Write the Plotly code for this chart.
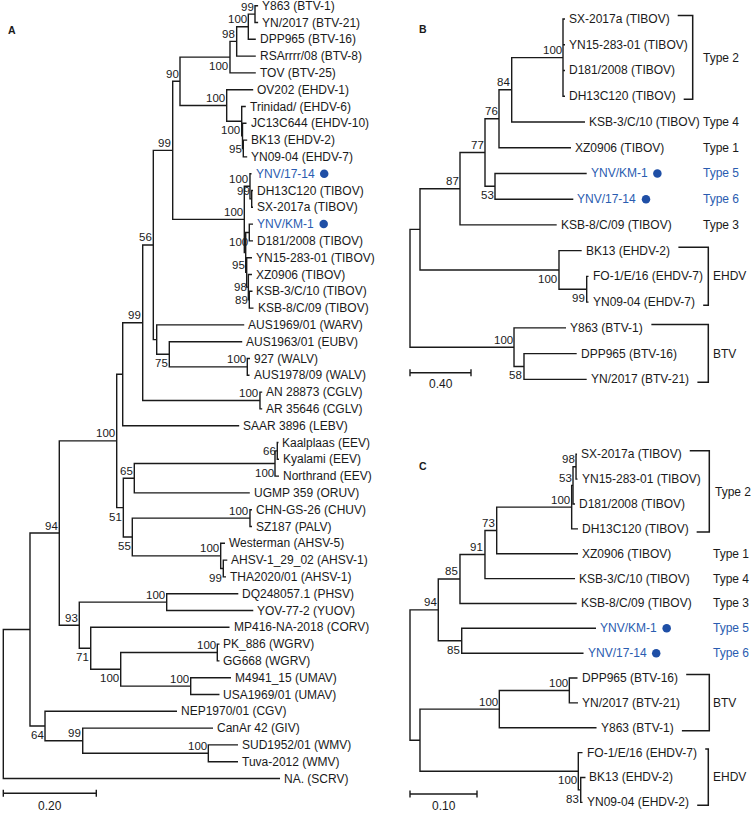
import plotly.graph_objects as go

W, H = 751, 813
FONT = "Liberation Sans, Arial, Helvetica, sans-serif"
INK = "#1a1a1a"
BLUE = "#2a5cb0"
DOT = "#1f4fa6"

# ---------------------------------------------------------------- data
# Panel A tree (preorder): node, parent, branch length, bootstrap support
A_node = ["#root", "#R1", "#n94", "#n100", "#nX", "#n99c", "#n56", "#n99u", "#n90",
          "#BTV4", "#BTV3", "#BTV2", "#BTV1", "Y863 (BTV-1)", "YN/2017 (BTV-21)", "DPP965 (BTV-16)",
          "RSArrrr/08 (BTV-8)", "TOV (BTV-25)",
          "#EHDV", "OV202 (EHDV-1)", "#E2", "Trinidad/ (EHDV-6)", "#E2b", "JC13C644 (EHDV-10)", "#E3",
          "BK13 (EHDV-2)", "YN09-04 (EHDV-7)",
          "#TIB", "#T1", "YNV/17-14", "#T1b", "DH13C120 (TIBOV)", "SX-2017a (TIBOV)",
          "#T2", "#T2a", "YNV/KM-1", "D181/2008 (TIBOV)", "#T2b", "YN15-283-01 (TIBOV)", "#T2c",
          "XZ0906 (TIBOV)", "#KSB", "KSB-3/C/10 (TIBOV)", "KSB-8/C/09 (TIBOV)",
          "#W", "AUS1969/01 (WARV)", "#n75", "AUS1963/01 (EUBV)", "#WALV", "927 (WALV)", "AUS1978/09 (WALV)",
          "#CGLV", "AN 28873 (CGLV)", "AR 35646 (CGLV)",
          "SAAR 3896 (LEBV)",
          "#n51", "#n65", "#EEV", "#EEVi", "Kaalplaas (EEV)", "Kyalami (EEV)", "Northrand (EEV)",
          "UGMP 359 (ORUV)",
          "#n55", "#CHUV", "CHN-GS-26 (CHUV)", "SZ187 (PALV)", "#AHSV", "Westerman (AHSV-5)", "#AHSVi",
          "AHSV-1_29_02 (AHSV-1)", "THA2020/01 (AHSV-1)",
          "#n93", "#PHSV", "DQ248057.1 (PHSV)", "YOV-77-2 (YUOV)", "#n71", "MP416-NA-2018 (CORV)",
          "#n100b", "#WGRV", "PK_886 (WGRV)", "GG668 (WGRV)", "#UMAV", "M4941_15 (UMAV)", "USA1969/01 (UMAV)",
          "#n64", "NEP1970/01 (CGV)", "#n99b", "CanAr 42 (GIV)", "#WMV", "SUD1952/01 (WMV)", "Tuva-2012 (WMV)",
          "NA. (SCRV)"]
A_parent = [None, "#root", "#R1", "#n94", "#n100", "#nX", "#n99c", "#n56", "#n99u",
            "#n90", "#BTV4", "#BTV3", "#BTV2", "#BTV1", "#BTV1", "#BTV2",
            "#BTV3", "#BTV4",
            "#n90", "#EHDV", "#EHDV", "#E2", "#E2", "#E2b", "#E2b",
            "#E3", "#E3",
            "#n99u", "#TIB", "#T1", "#T1", "#T1b", "#T1b",
            "#TIB", "#T2", "#T2a", "#T2a", "#T2", "#T2b", "#T2b",
            "#T2c", "#T2c", "#KSB", "#KSB",
            "#n56", "#W", "#W", "#n75", "#n75", "#WALV", "#WALV",
            "#n99c", "#CGLV", "#CGLV",
            "#nX",
            "#n100", "#n51", "#n65", "#EEV", "#EEVi", "#EEVi", "#EEV",
            "#n65",
            "#n51", "#n55", "#CHUV", "#CHUV", "#n55", "#AHSV", "#AHSV",
            "#AHSVi", "#AHSVi",
            "#n94", "#n93", "#PHSV", "#PHSV", "#n93", "#n71",
            "#n71", "#n100b", "#WGRV", "#WGRV", "#n100b", "#UMAV", "#UMAV",
            "#R1", "#n64", "#n64", "#n99b", "#n99b", "#WMV", "#WMV",
            "#root"]
A_length = [0.0, 0.0574, 0.0630, 0.1235, 0.0129, 0.0430, 0.0228, 0.0417, 0.0157,
            0.1075, 0.0144, 0.0250, 0.0144, 0.0067, 0.0067, 0.0161,
            0.0411, 0.0555,
            0.1004, 0.0570, 0.0323, 0.0088, 0.0017, 0.0086, 0.0017,
            0.0084, 0.0084,
            0.1540, 0.0122, 0.0033, 0.0037, 0.0028, 0.0028,
            0.0030, 0.0077, 0.0080, 0.0080, 0.0021, 0.0114, 0.0036,
            0.0078, 0.0020, 0.0069, 0.0091,
            0.0073, 0.1882, 0.0271, 0.1568, 0.1677, 0.0058, 0.0048,
            0.2522, 0.0048, 0.0048,
            0.2505,
            0.0142, 0.0236, 0.3026, 0.0049, 0.0026, 0.0037, 0.0086,
            0.2484,
            0.0193, 0.2531, 0.0043, 0.0043, 0.1901, 0.0093, 0.0056,
            0.0086, 0.0058,
            0.0430, 0.1880, 0.1540, 0.1862, 0.0246, 0.2985,
            0.0645, 0.2077, 0.0047, 0.0047, 0.1505, 0.0867, 0.0619,
            0.0323, 0.2838, 0.0811, 0.2802, 0.2701, 0.0638, 0.0638,
            0.5951]
A_support = [None, None, 94, 100, None, 99, 56, 99, 90,
             100, 98, 100, 99, None, None, None,
             None, None,
             100, None, 100, None, None, None, 95,
             None, None,
             100, 100, None, 99, None, None,
             None, 100, None, None, 95, None, 98,
             None, 89, None, None,
             None, None, 75, None, 100, None, None,
             100, None, None,
             None,
             51, 65, 100, 66, None, None, None,
             None,
             55, 100, None, None, 100, None, 99,
             None, None,
             93, 100, None, None, 71, None,
             100, 100, None, None, 100, None, None,
             64, None, 99, None, 100, None, None,
             None]

# Panel B tree
B_node = ["#root", "#a", "#n87", "#n77", "#n76", "#n84", "#T2",
          "SX-2017a (TIBOV)", "YN15-283-01 (TIBOV)", "D181/2008 (TIBOV)", "DH13C120 (TIBOV)",
          "KSB-3/C/10 (TIBOV)", "XZ0906 (TIBOV)", "#n53", "YNV/KM-1", "YNV/17-14", "KSB-8/C/09 (TIBOV)",
          "#EHDV", "BK13 (EHDV-2)", "#EHDVi", "FO-1/E/16 (EHDV-7)", "YN09-04 (EHDV-7)",
          "#BTV", "Y863 (BTV-1)", "#BTVi", "DPP965 (BTV-16)", "YN/2017 (BTV-21)"]
B_parent = [None, "#root", "#a", "#n87", "#n77", "#n76", "#n84",
            "#T2", "#T2", "#T2", "#T2",
            "#n84", "#n76", "#n77", "#n53", "#n53", "#n87",
            "#a", "#EHDV", "#EHDV", "#EHDVi", "#EHDVi",
            "#root", "#BTV", "#BTV", "#BTVi", "#BTVi"]
B_length = [0.0, 0.0656, 0.2623, 0.1639, 0.0918, 0.0833, 0.3364,
            0.0131, 0.0131, 0.0131, 0.0131,
            0.4806, 0.4721, 0.0656, 0.6013, 0.5134, 0.6341,
            0.9114, 0.1489, 0.1817, 0.0118, 0.0118,
            0.6820, 0.3410, 0.0655, 0.3456, 0.4112]
B_support = [None, None, 87, 77, 76, 84, 100,
             None, None, None, None,
             None, None, 53, None, None, None,
             100, None, 99, None, None,
             100, None, 58, None, None]

# Panel C tree
C_node = ["#root", "#n94", "#n85", "#n91", "#n73", "#n100", "#n53", "#n98",
          "SX-2017a (TIBOV)", "YN15-283-01 (TIBOV)", "D181/2008 (TIBOV)", "DH13C120 (TIBOV)",
          "XZ0906 (TIBOV)", "KSB-3/C/10 (TIBOV)", "KSB-8/C/09 (TIBOV)",
          "#n85b", "YNV/KM-1", "YNV/17-14",
          "#BE", "#BTV", "#BTVi", "DPP965 (BTV-16)", "YN/2017 (BTV-21)", "Y863 (BTV-1)",
          "#EHDV", "FO-1/E/16 (EHDV-7)", "#EHDVi", "BK13 (EHDV-2)", "YN09-04 (EHDV-2)"]
C_parent = [None, "#root", "#n94", "#n85", "#n91", "#n73", "#n100", "#n53",
            "#n98", "#n98", "#n53", "#n100",
            "#n73", "#n91", "#n85",
            "#n94", "#n85b", "#n85b",
            "#root", "#BE", "#BTV", "#BTVi", "#BTVi", "#BTV",
            "#BE", "#EHDV", "#EHDV", "#EHDVi", "#EHDVi"]
C_length = [0.0, 0.0422, 0.0324, 0.0373, 0.0175, 0.1119, 0.0020, 0.0045,
            0.0015, 0.0022, 0.0030, 0.0094,
            0.1213, 0.1344, 0.1742,
            0.0350, 0.2004, 0.1818,
            0.0149, 0.1184, 0.1045, 0.0122, 0.0129, 0.1451,
            0.2363, 0.0063, 0.0036, 0.0071, 0.0027]
C_support = [None, 94, 85, 91, 73, 100, 53, 98,
             None, None, None, None,
             None, None, None,
             85, None, None,
             None, 100, 100, None, None, None,
             100, None, 83, None, None]

# Newly characterised strains (blue)
NEW_STRAINS = ["YNV/17-14", "YNV/KM-1"]

# Clade / type annotations
B_group = ["Type 2", "Type 4", "Type 1", "Type 5", "Type 6", "Type 3", "EHDV", "BTV"]
B_group_first = ["SX-2017a (TIBOV)", "KSB-3/C/10 (TIBOV)", "XZ0906 (TIBOV)", "YNV/KM-1", "YNV/17-14",
                 "KSB-8/C/09 (TIBOV)", "BK13 (EHDV-2)", "Y863 (BTV-1)"]
B_group_last = ["DH13C120 (TIBOV)", "KSB-3/C/10 (TIBOV)", "XZ0906 (TIBOV)", "YNV/KM-1", "YNV/17-14",
                "KSB-8/C/09 (TIBOV)", "YN09-04 (EHDV-7)", "YN/2017 (BTV-21)"]
C_group = ["Type 2", "Type 1", "Type 4", "Type 3", "Type 5", "Type 6", "BTV", "EHDV"]
C_group_first = ["SX-2017a (TIBOV)", "XZ0906 (TIBOV)", "KSB-3/C/10 (TIBOV)", "KSB-8/C/09 (TIBOV)",
                 "YNV/KM-1", "YNV/17-14", "DPP965 (BTV-16)", "FO-1/E/16 (EHDV-7)"]
C_group_last = ["DH13C120 (TIBOV)", "XZ0906 (TIBOV)", "KSB-3/C/10 (TIBOV)", "KSB-8/C/09 (TIBOV)",
                "YNV/KM-1", "YNV/17-14", "Y863 (BTV-1)", "YN09-04 (EHDV-2)"]
NEW_TYPES = ["Type 5", "Type 6"]

# Scale bars
SCALE_VALUE = {"A": 0.20, "B": 0.40, "C": 0.10}
SCALE_LABEL = {"A": "0.20", "B": "0.40", "C": "0.10"}

# ---------------------------------------------------------------- style
PANEL = {
    "A": dict(xa="x", ya="y", px0=3.3, kx=465.0, py0=5.7, ky=16.8),
    "B": dict(xa="x2", ya="y2", px0=410.0, kx=152.5, py0=19.0, ky=25.74),
    "C": dict(xa="x3", ya="y3", px0=410.0, kx=670.0, py0=454.3, ky=24.86),
}
LABEL_POS = {
    "A": {"#BTV4": "b", "#E2": "b", "#E3": "m", "#T2a": "b", "#T2c": "m", "#KSB": "m", "#n75": "b",
          "#EEVi": "m", "#EEV": "b", "#n51": "b", "#n55": "b", "#AHSVi": "b", "#n71": "b",
          "#n100b": "b", "#n64": "b"},
    "B": {"#n53": "b", "#EHDV": "b", "#EHDVi": "b", "#BTVi": "b"},
    "C": {"#n85b": "b", "#EHDV": "b", "#EHDVi": "b"},
}
YSHIFT = {"a": 7.5, "b": -9.0, "m": 0.0}
GROUP_LABEL_PX = {"B": [703.3] * 6 + [713.3, 713.3], "C": [714.5] + [713.3] * 7}
BRACKET_PX = {"B": {"Type 2": 692.7, "EHDV": 708.3, "BTV": 708.3},
              "C": {"Type 2": 709.3, "BTV": 709.3, "EHDV": 708.3}}
SCALE_PX = {"A": (793.3, 806.0), "B": (372.7, 383.5), "C": (794.0, 806.0)}
LEAF_FS, SUP_FS = 12, 11.5
LEAF_SHIFT = 2.0  # annotation shift (box padding adds ~2px)
TEXT_GAP = 4.0

ARIAL = {' ': 278, '(': 333, ')': 333, '-': 333, '.': 278, '/': 278, '_': 556,
         'A': 667, 'B': 667, 'C': 722, 'D': 722, 'E': 667, 'F': 611, 'G': 778, 'H': 722, 'I': 278,
         'J': 500, 'K': 667, 'L': 556, 'M': 833, 'N': 722, 'O': 778, 'P': 667, 'Q': 778, 'R': 722,
         'S': 667, 'T': 611, 'U': 722, 'V': 667, 'W': 944, 'X': 667, 'Y': 667, 'Z': 611,
         'a': 556, 'b': 556, 'c': 500, 'd': 556, 'e': 556, 'f': 278, 'g': 556, 'h': 556, 'i': 222,
         'j': 222, 'k': 500, 'l': 222, 'm': 833, 'n': 556, 'o': 556, 'p': 556, 'q': 556, 'r': 333,
         's': 500, 't': 278, 'u': 556, 'v': 500, 'w': 722, 'x': 500, 'y': 500, 'z': 500}


def text_w(s, size=LEAF_FS):
    return sum(ARIAL.get(c, 556) for c in s) * size / 1000.0


def build(nodes, parents, lengths):
    assert len(nodes) == len(parents) == len(lengths)
    kids = {n: [] for n in nodes}
    blen = dict(zip(nodes, lengths))
    root = None
    for n, p in zip(nodes, parents):
        if p is None:
            root = n
        else:
            kids[p].append(n)
    depth, ypos, leaves = {}, {}, []

    def rec(n, d):
        depth[n] = d
        if not kids[n]:
            ypos[n] = float(len(leaves))
            leaves.append(n)
        else:
            for c in kids[n]:
                rec(c, d + blen[c])
            ypos[n] = (ypos[kids[n][0]] + ypos[kids[n][-1]]) / 2.0
    rec(root, 0.0)
    return kids, depth, ypos, leaves


fig = go.Figure()
annotations = []


def add_tree(key, nodes, parents, lengths, support):
    P = PANEL[key]
    kids, depth, ypos, leaves = build(nodes, parents, lengths)
    xs, ys = [], []
    for n in nodes:
        ch = kids[n]
        if not ch:
            continue
        f, l = ch[0], ch[-1]
        xs += [depth[f], depth[n], depth[n], depth[l], None]
        ys += [ypos[f], ypos[f], ypos[l], ypos[l], None]
        for c in ch[1:-1]:
            xs += [depth[n], depth[c], None]
            ys += [ypos[c], ypos[c], None]
    fig.add_trace(go.Scatter(x=xs, y=ys, mode="lines", line=dict(color=INK, width=1.4),
                             xaxis=P["xa"], yaxis=P["ya"], hoverinfo="skip", showlegend=False))
    dx, dy = [], []
    for lf in leaves:
        blue = lf in NEW_STRAINS
        annotations.append(dict(x=depth[lf], y=ypos[lf], xref=P["xa"], yref=P["ya"], text=lf,
                                showarrow=False, xanchor="left", yanchor="middle", xshift=LEAF_SHIFT,
                                font=dict(family=FONT, size=LEAF_FS, color=BLUE if blue else INK)))
        if blue:
            dx.append(depth[lf] + (TEXT_GAP + text_w(lf) + 10.0) / P["kx"])
            dy.append(ypos[lf])
    fig.add_trace(go.Scatter(x=dx, y=dy, mode="markers", marker=dict(size=8.5, color=DOT),
                             xaxis=P["xa"], yaxis=P["ya"], hoverinfo="skip", showlegend=False))
    for n, s in zip(nodes, support):
        if s is None:
            continue
        pos = LABEL_POS[key].get(n, "a")
        annotations.append(dict(x=depth[n], y=ypos[n], xref=P["xa"], yref=P["ya"], text=str(s),
                                showarrow=False, xanchor="right", yanchor="middle", xshift=0.5,
                                yshift=YSHIFT[pos], font=dict(family=FONT, size=SUP_FS, color=INK)))
    # scale bar
    v = SCALE_VALUE[key]
    by = (SCALE_PX[key][0] - P["py0"]) / P["ky"]
    ly = (SCALE_PX[key][1] - P["py0"]) / P["ky"]
    cap = 3.5 / P["ky"]
    fig.add_trace(go.Scatter(x=[0, v, None, 0, 0, None, v, v], y=[by, by, None, by - cap, by + cap, None, by - cap, by + cap],
                             mode="lines", line=dict(color=INK, width=1.4),
                             xaxis=P["xa"], yaxis=P["ya"], hoverinfo="skip", showlegend=False))
    annotations.append(dict(x=v / 2, y=ly, xref=P["xa"], yref=P["ya"], text=SCALE_LABEL[key],
                            showarrow=False, xanchor="center", yanchor="middle",
                            font=dict(family=FONT, size=LEAF_FS, color=INK)))
    return depth, ypos


def add_groups(key, depth, ypos, groups, firsts, lasts):
    P = PANEL[key]
    xs, ys = [], []
    for g, f, l, lpx in zip(groups, firsts, lasts, GROUP_LABEL_PX[key]):
        ymid = (ypos[f] + ypos[l]) / 2.0
        annotations.append(dict(x=(lpx - P["px0"]) / P["kx"], y=ymid, xref=P["xa"], yref=P["ya"], text=g,
                                showarrow=False, xanchor="left", yanchor="middle", xshift=-2,
                                font=dict(family=FONT, size=LEAF_FS, color=BLUE if g in NEW_TYPES else INK)))
        if f != l:
            xb = (BRACKET_PX[key][g] - P["px0"]) / P["kx"]
            yt = ypos[f] - 3.5 / P["ky"]
            yb = ypos[l] + 3.0 / P["ky"]
            xt0 = depth[f] + (TEXT_GAP + text_w(f) + 8.0) / P["kx"]
            xb0 = depth[l] + (TEXT_GAP + text_w(l) + 8.0) / P["kx"]
            xs += [xt0, xb, xb, xb0, None]
            ys += [yt, yt, yb, yb, None]
    fig.add_trace(go.Scatter(x=xs, y=ys, mode="lines", line=dict(color=INK, width=1.5),
                             xaxis=P["xa"], yaxis=P["ya"], hoverinfo="skip", showlegend=False))


add_tree("A", A_node, A_parent, A_length, A_support)
dB, yB = add_tree("B", B_node, B_parent, B_length, B_support)
add_groups("B", dB, yB, B_group, B_group_first, B_group_last)
dC, yC = add_tree("C", C_node, C_parent, C_length, C_support)
add_groups("C", dC, yC, C_group, C_group_first, C_group_last)

for letter, (px, py) in {"A": (12.3, 30.0), "B": (423.3, 29.3), "C": (423.3, 465.7)}.items():
    annotations.append(dict(x=px / W, y=1 - py / H, xref="paper", yref="paper", text="<b>%s</b>" % letter,
                            showarrow=False, xanchor="center", yanchor="middle",
                            font=dict(family=FONT, size=10.5, color=INK)))

layout = dict(width=W, height=H, autosize=False, margin=dict(l=0, r=0, t=0, b=0),
              paper_bgcolor="white", plot_bgcolor="rgba(0,0,0,0)", showlegend=False,
              annotations=annotations)
for i, key in enumerate("ABC"):
    P = PANEL[key]
    sfx = "" if i == 0 else str(i + 1)
    layout["xaxis" + sfx] = dict(domain=[0, 1], range=[-P["px0"] / P["kx"], (W - P["px0"]) / P["kx"]],
                                 visible=False, fixedrange=True, anchor="y" + sfx)
    layout["yaxis" + sfx] = dict(domain=[0, 1], range=[(H - P["py0"]) / P["ky"], -P["py0"] / P["ky"]],
                                 visible=False, fixedrange=True, anchor="x" + sfx)
fig.update_layout(**layout)
PAGE_JS = ("document.documentElement.style.margin='0';document.body.style.margin='0';"
           "document.body.style.padding='0';document.body.style.overflow='hidden';"
           "document.documentElement.style.overflow='hidden';")
fig.write_html("out.html", config={"displayModeBar": False}, post_script=PAGE_JS)
